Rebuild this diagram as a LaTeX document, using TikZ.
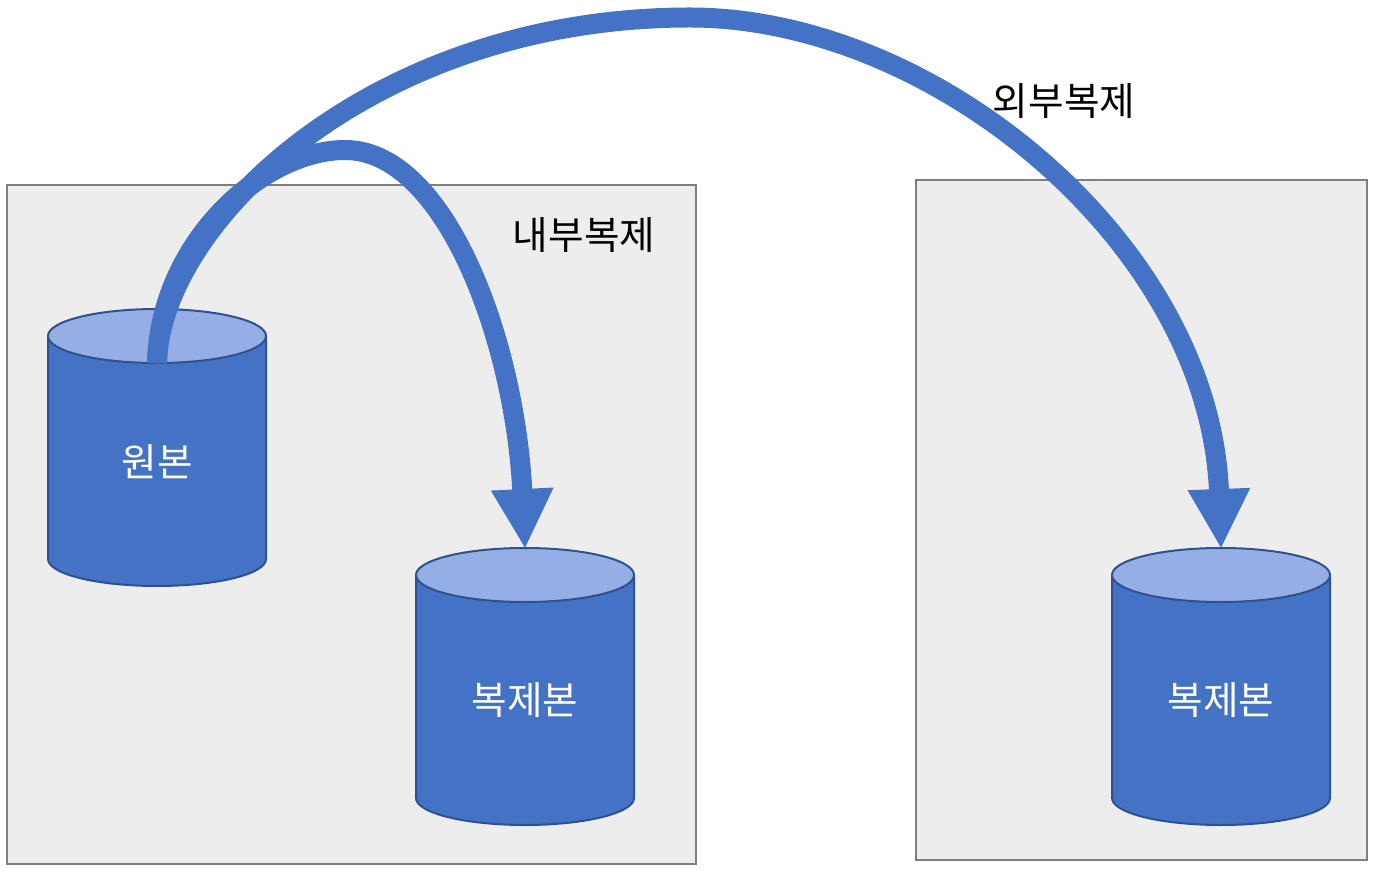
\documentclass[tikz,border=0pt]{standalone}
\usepackage{fontspec}
\setmainfont{Noto Sans CJK KR}
\usepackage{xcolor}
\usetikzlibrary{shapes.geometric, arrows.meta, positioning}
\definecolor{boxfill}{HTML}{EDEDED}
\definecolor{boxline}{HTML}{7F7F7F}
\definecolor{dbblue}{HTML}{4472C4}
\definecolor{dbtop}{HTML}{95AFE6}
\definecolor{dbline}{HTML}{2F528F}
\tikzstyle{arrow} = [line width=0.4cm,draw=dbblue,shorten >=-0.04cm,-{Triangle[length=1.2cm,width=1.16cm]}]

\begin{document}
\begin{tikzpicture}
    \tikzstyle{zone}=[draw=boxline, fill=boxfill, line width=0.04cm, rectangle, anchor=north west, inner sep=0pt]
    \tikzstyle{db}=[draw=dbline, line width=0.04cm, cylinder, shape border rotate=90, aspect=0.3375, minimum height=5.54cm, minimum width=4.36cm, inner sep=0pt, text width=3.2cm, align=center, anchor=shape center, cylinder uses custom fill, cylinder body fill=dbblue, cylinder end fill=dbtop, text=white, font=\fontsize{22pt}{26pt}\selectfont]
    \tikzstyle{caption}=[font=\fontsize{22pt}{26pt}\selectfont, text=black]

    \useasboundingbox (0,0) rectangle (27.46,17.4);

    \node[zone, minimum width=13.78cm, minimum height=13.58cm] (inner) at (0.12,13.72) {};
    \node[zone, minimum width=9.02cm, minimum height=13.6cm] (outer) at (18.3,13.82) {};

    \node[db] (source) at (3.14,8.45) {원본};
    \node[db] (copya) at (10.5,3.67) {복제본};
    \node[db] (copyb) at (24.42,3.67) {복제본};

    \node[caption] (innerlabel) at (11.68,12.7) {내부복제};
    \node[caption] (outerlabel) at (21.28,15.38) {외부복제};

    \coordinate (start) at (3.14,10.14);
    \draw[arrow] (start) .. controls (3.2,12.6) and (5.3,14.4) .. (6.9,14.4)
        .. controls (8.9,14.4) and (10.3,10.6) .. (copya.north);
    \draw[arrow] (start) .. controls (3.2,12.9) and (7.4,17.05) .. (13.8,17.05)
        .. controls (18.7,17.05) and (24.2,12.5) .. (copyb.north);
\end{tikzpicture}
\end{document}
